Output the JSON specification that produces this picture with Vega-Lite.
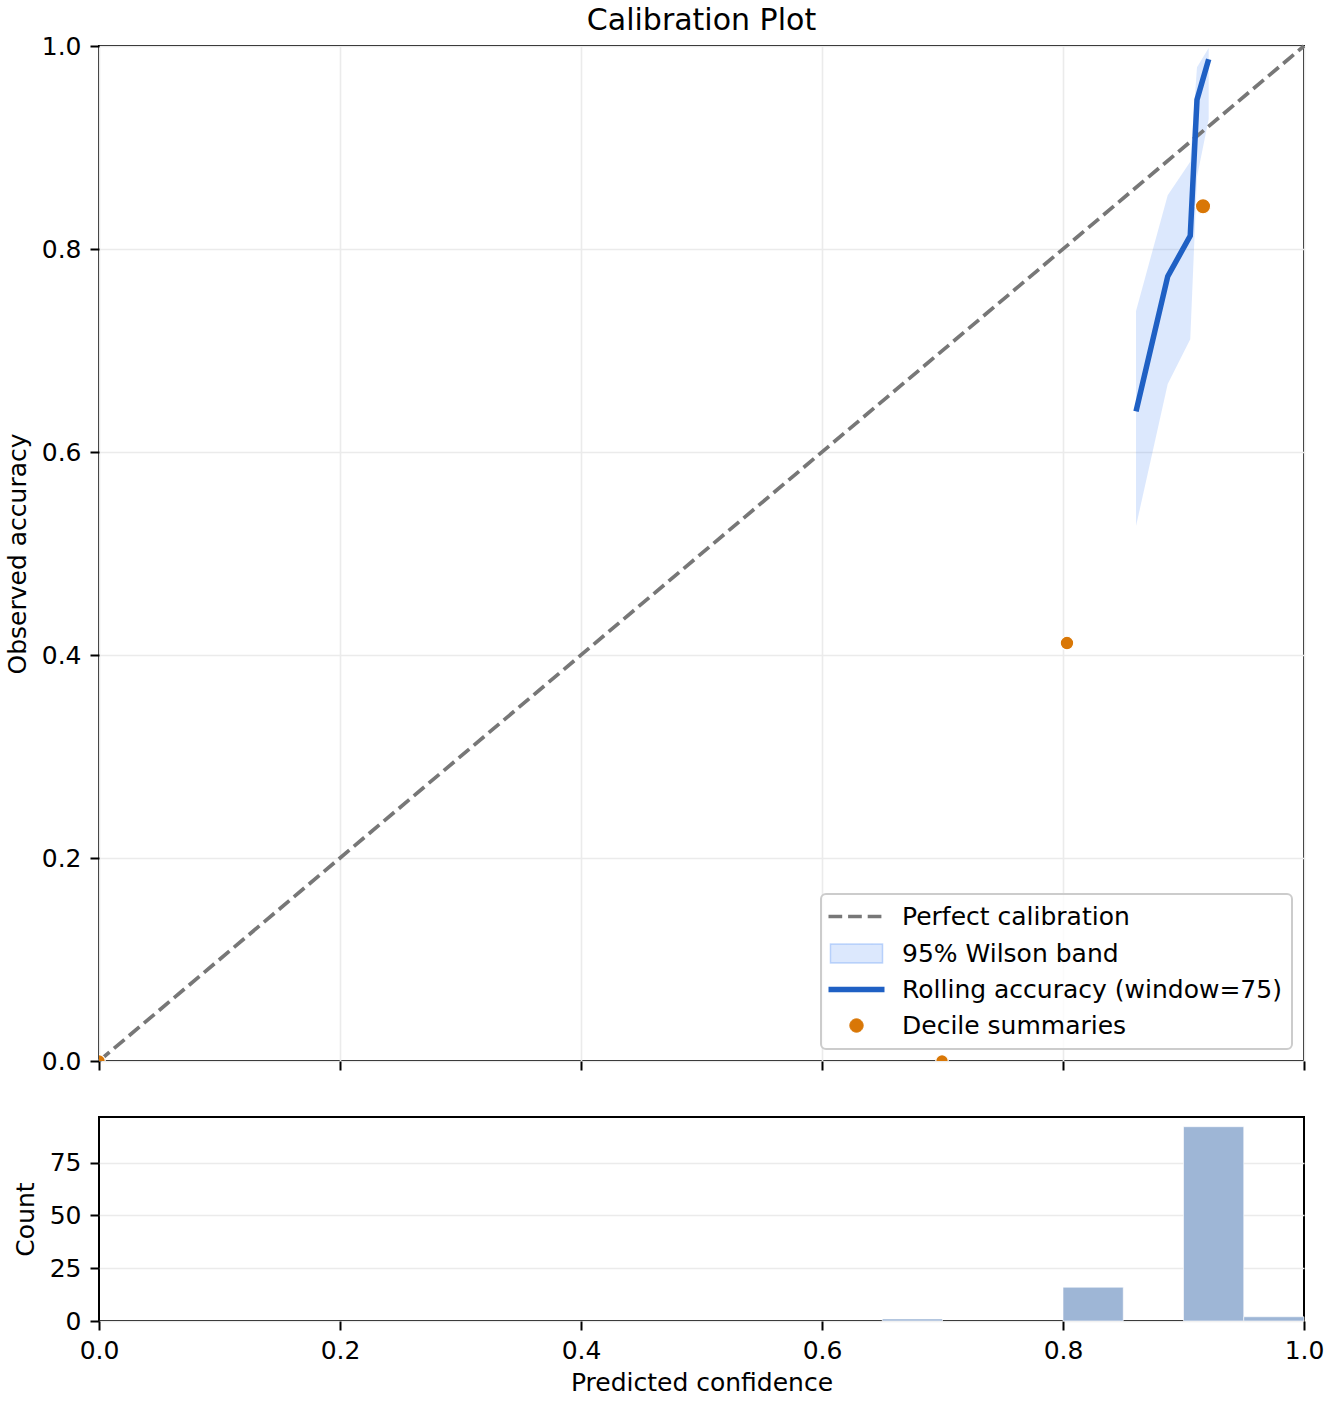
{
  "$schema": "https://vega.github.io/schema/vega-lite/v6.json",
  "background": "white",
  "padding": {"left": 4, "top": 5, "right": 5, "bottom": 5},
  "spacing": 41,
  "resolve": {"scale": {"color": "independent"}, "legend": {"color": "independent"}},
  "datasets": {
    "diagonal": [
      {"conf": 0, "acc": 0},
      {"conf": 1, "acc": 1}
    ],
    "rolling": [
      {"conf": 0.8606, "acc": 0.640, "lo": 0.527, "hi": 0.739},
      {"conf": 0.8869, "acc": 0.773, "lo": 0.667, "hi": 0.853},
      {"conf": 0.9056, "acc": 0.813, "lo": 0.711, "hi": 0.886},
      {"conf": 0.9112, "acc": 0.947, "lo": 0.871, "hi": 0.979},
      {"conf": 0.9209, "acc": 0.987, "lo": 0.928, "hi": 0.998}
    ],
    "deciles": [
      {"conf": 0.0, "acc": 0.0, "n": 1},
      {"conf": 0.6996, "acc": 0.0, "n": 1},
      {"conf": 0.8033, "acc": 0.4118, "n": 17},
      {"conf": 0.9162, "acc": 0.8421, "n": 95}
    ],
    "hist": [
      {"bin_start": 0.65, "bin_end": 0.70, "count": 1},
      {"bin_start": 0.80, "bin_end": 0.85, "count": 16},
      {"bin_start": 0.90, "bin_end": 0.95, "count": 92},
      {"bin_start": 0.95, "bin_end": 1.00, "count": 2}
    ]
  },
  "vconcat": [
    {
      "width": 1205,
      "height": 1015,
      "title": {"text": "Calibration Plot", "anchor": "middle", "frame": "group", "offset": -2},
      "layer": [
        {
          "data": {"name": "rolling"},
          "mark": {"type": "area", "fillOpacity": 0.18, "strokeOpacity": 0.25, "strokeWidth": 1.5},
          "encoding": {
            "x": {
              "field": "conf", "type": "quantitative",
              "scale": {"domain": [0, 1]},
              "axis": {"values": [0, 0.2, 0.4, 0.6, 0.8, 1], "labels": false, "title": null, "grid": true}
            },
            "y": {
              "field": "lo", "type": "quantitative",
              "scale": {"domain": [0, 1]},
              "axis": {"values": [0, 0.2, 0.4, 0.6, 0.8, 1], "format": ".1f", "title": "Observed accuracy", "grid": true}
            },
            "y2": {"field": "hi"},
            "color": {
              "datum": "95% Wilson band",
              "scale": {
                "domain": ["Perfect calibration", "95% Wilson band", "Rolling accuracy (window=75)", "Decile summaries"],
                "range": ["#777777", "#3b82f6", "#1f60c4", "#d97706"]
              },
              "legend": {
                "orient": "bottom-right",
                "offset": 12,
                "title": null,
                "fillColor": "rgba(255,255,255,0.8)",
                "strokeColor": "#cccccc",
                "cornerRadius": 5,
                "padding": 10,
                "labelFontSize": 25,
                "labelColor": "black",
                "labelLimit": 600,
                "symbolSize": 3136,
                "symbolOffset": 13,
                "labelOffset": 33,
                "rowPadding": 10,
                "encode": {
                  "legend": {
                    "update": {"strokeWidth": {"value": 2}}
                  },
                  "symbols": {
                    "update": {
                      "shape": {"signal": "datum.value == '95% Wilson band' ? 'M-0.93,-0.34L0.93,-0.34L0.93,0.34L-0.93,0.34Z' : datum.value == 'Decile summaries' ? 'circle' : 'M-1,0L1,0'"},
                      "size": {"signal": "datum.value == 'Decile summaries' ? 180 : 3136"},
                      "strokeWidth": {"signal": "datum.value == 'Perfect calibration' ? 3.7 : datum.value == 'Rolling accuracy (window=75)' ? 5.5 : datum.value == '95% Wilson band' ? 1.5 : 1"},
                      "strokeDash": {"signal": "datum.value == 'Perfect calibration' ? [13.7, 5.9] : [1, 0]"},
                      "opacity": {"value": 1},
                      "fillOpacity": {"signal": "datum.value == '95% Wilson band' ? 0.18 : datum.value == 'Decile summaries' ? 1 : 0"},
                      "strokeOpacity": {"signal": "datum.value == '95% Wilson band' ? 0.3 : 1"}
                    }
                  }
                }
              }
            }
          }
        },
        {
          "data": {"name": "diagonal"},
          "mark": {"type": "line", "strokeDash": [13.7, 5.9], "strokeWidth": 3.7},
          "encoding": {
            "x": {"field": "conf", "type": "quantitative"},
            "y": {"field": "acc", "type": "quantitative"},
            "color": {"datum": "Perfect calibration"}
          }
        },
        {
          "data": {"name": "rolling"},
          "mark": {"type": "line", "strokeWidth": 5.5},
          "encoding": {
            "x": {"field": "conf", "type": "quantitative"},
            "y": {"field": "acc", "type": "quantitative"},
            "color": {"datum": "Rolling accuracy (window=75)"}
          }
        },
        {
          "data": {"name": "deciles"},
          "mark": {"type": "point", "filled": true, "opacity": 1, "stroke": "white", "strokeWidth": 1.2, "clip": true},
          "encoding": {
            "x": {"field": "conf", "type": "quantitative"},
            "y": {"field": "acc", "type": "quantitative"},
            "size": {"field": "n", "type": "quantitative", "scale": {"type": "sqrt", "domain": [0, 95], "range": [150, 232]}, "legend": null},
            "color": {"datum": "Decile summaries"}
          }
        }
      ]
    },
    {
      "width": 1205,
      "height": 204,
      "data": {"name": "hist"},
      "mark": {"type": "bar", "color": "#9eb6d6", "stroke": "white", "strokeWidth": 0.6},
      "encoding": {
        "x": {
          "field": "bin_start", "type": "quantitative",
          "scale": {"domain": [0, 1]},
          "axis": {"values": [0, 0.2, 0.4, 0.6, 0.8, 1], "format": ".1f", "title": "Predicted confidence", "grid": false, "titlePadding": 7, "labelPadding": 8}
        },
        "x2": {"field": "bin_end"},
        "y": {
          "field": "count", "type": "quantitative",
          "scale": {"domain": [0, 96.6]},
          "axis": {"values": [0, 25, 50, 75], "title": "Count", "grid": true}
        },
        "y2": {"datum": 0}
      }
    }
  ],
  "config": {
    "font": "DejaVu Sans",
    "view": {"stroke": "black", "strokeWidth": 2},
    "axis": {
      "domain": false,
      "labelFlush": false,
      "tickColor": "black",
      "tickWidth": 2,
      "tickSize": 9,
      "labelFontSize": 25,
      "labelColor": "black",
      "labelPadding": 9,
      "titleFontSize": 25,
      "titleFontWeight": "normal",
      "titleColor": "black",
      "titlePadding": 11,
      "gridColor": "#ebebeb",
      "gridWidth": 1.6
    },
    "title": {"fontSize": 30, "fontWeight": "normal", "color": "black"}
  }
}
